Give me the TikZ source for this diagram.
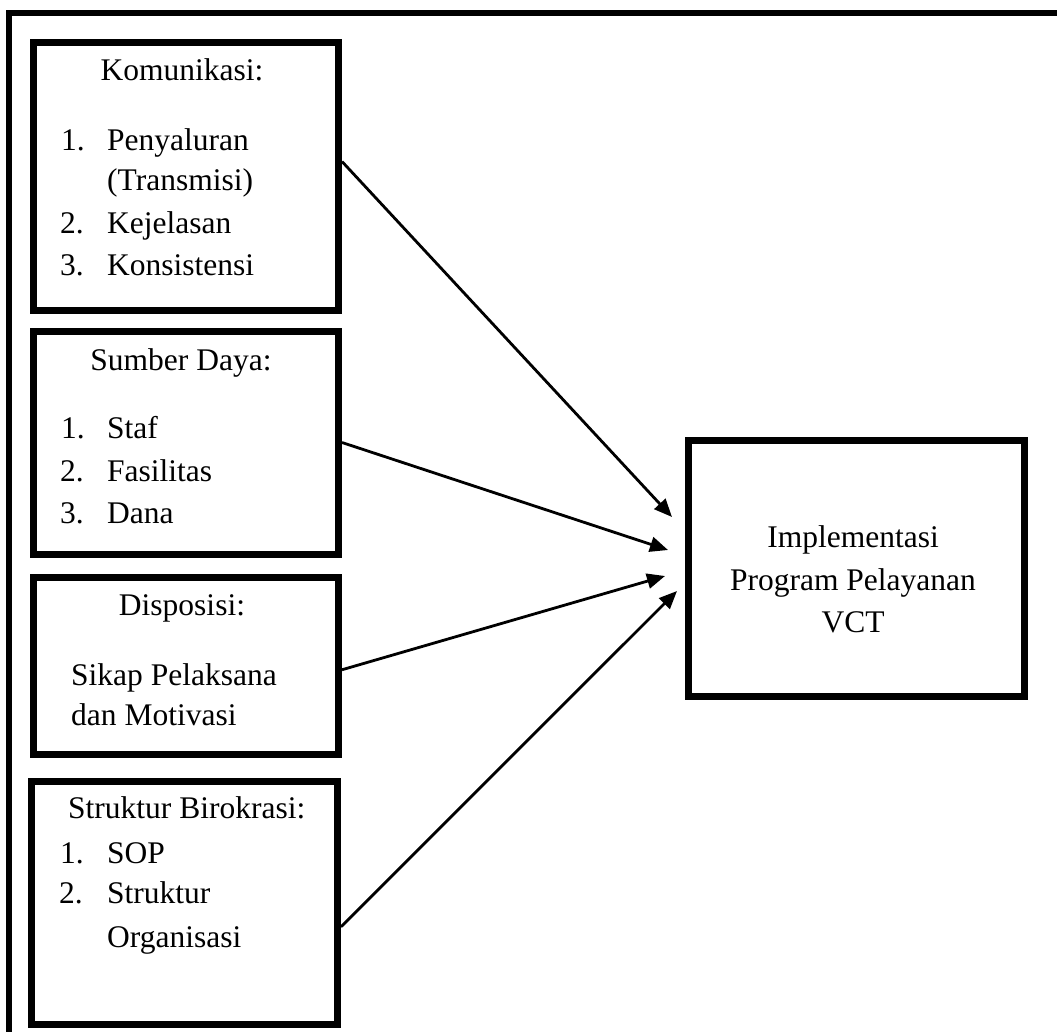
\documentclass[tikz,border=0pt]{standalone}
\usepackage{fontspec}
\setmainfont{Liberation Serif}
\usetikzlibrary{arrows.meta}
\begin{document}
\begin{tikzpicture}[x=1pt,y=-1pt,
  txt/.style={inner sep=0pt,font=\fontsize{31.5}{42}\selectfont},
  lt/.style={txt,anchor=base west},
  ct/.style={txt,anchor=base},
  bx/.style={draw,line width=7pt,inner sep=0pt,anchor=north west},
  conn/.style={line width=2.8pt,-{Triangle[length=18pt,width=15pt]}}]
\useasboundingbox (0,0) rectangle (1057,1031);
% outer frame (top and left edges visible)
\draw[line width=6pt] (9,1040) -- (9,13) -- (1070,13);
% boxes
\node[bx,minimum width=305.5pt,minimum height=268pt] (kom) at (29.5,38.5) {};
\node[bx,minimum width=305.5pt,minimum height=223pt] (sd) at (29.5,327.5) {};
\node[bx,minimum width=305.5pt,minimum height=176.5pt] (dis) at (29.5,574) {};
\node[bx,minimum width=306.5pt,minimum height=242.5pt] (sb) at (27.5,778) {};
\node[bx,line width=6.5pt,minimum width=336pt,minimum height=256pt] (impl) at (685,437) {};
% box 1 text
\node[ct] (komT) at (182,80) {Komunikasi:};
\node[lt] (k1n) at (61,150) {1.};
\node[lt] (k1) at (107,150) {Penyaluran};
\node[lt] (k1b) at (107,190) {(Transmisi)};
\node[lt] (k2n) at (60,233) {2.};
\node[lt] (k2) at (107,233) {Kejelasan};
\node[lt] (k3n) at (60,275) {3.};
\node[lt] (k3) at (107,275) {Konsistensi};
% box 2 text
\node[ct] (sdT) at (181,370) {Sumber Daya:};
\node[lt] (s1n) at (61,438) {1.};
\node[lt] (s1) at (107,438) {Staf};
\node[lt] (s2n) at (60,481) {2.};
\node[lt] (s2) at (107,481) {Fasilitas};
\node[lt] (s3n) at (60,523) {3.};
\node[lt] (s3) at (107,523) {Dana};
% box 3 text
\node[ct] (disT) at (182,615) {Disposisi:};
\node[lt] (d1) at (71,685) {Sikap Pelaksana};
\node[lt] (d2) at (71,725) {dan Motivasi};
% box 4 text
\node[lt] (sbT) at (68,818) {Struktur Birokrasi:};
\node[lt] (b1n) at (60,863) {1.};
\node[lt] (b1) at (107,863) {SOP};
\node[lt] (b2n) at (59,903) {2.};
\node[lt] (b2) at (107,903) {Struktur};
\node[lt] (b2b) at (107,947) {Organisasi};
% right box text
\node[ct] (i1) at (853,547) {Implementasi};
\node[ct] (i2) at (853,590) {Program Pelayanan};
\node[ct] (i3) at (853,632) {VCT};
% arrow tips
\coordinate (t1) at (672,517);
\coordinate (t2) at (668,550);
\coordinate (t3) at (665,576);
\coordinate (t4) at (677,591);
\draw[conn] ([yshift=14.5pt]kom.east) -- (t1);
\draw[conn] (sd.east) -- (t2);
\draw[conn] ([yshift=-4pt]dis.east) -- (t3);
\draw[conn] ([yshift=-24pt]sb.east) -- (t4);
\end{tikzpicture}
\end{document}
